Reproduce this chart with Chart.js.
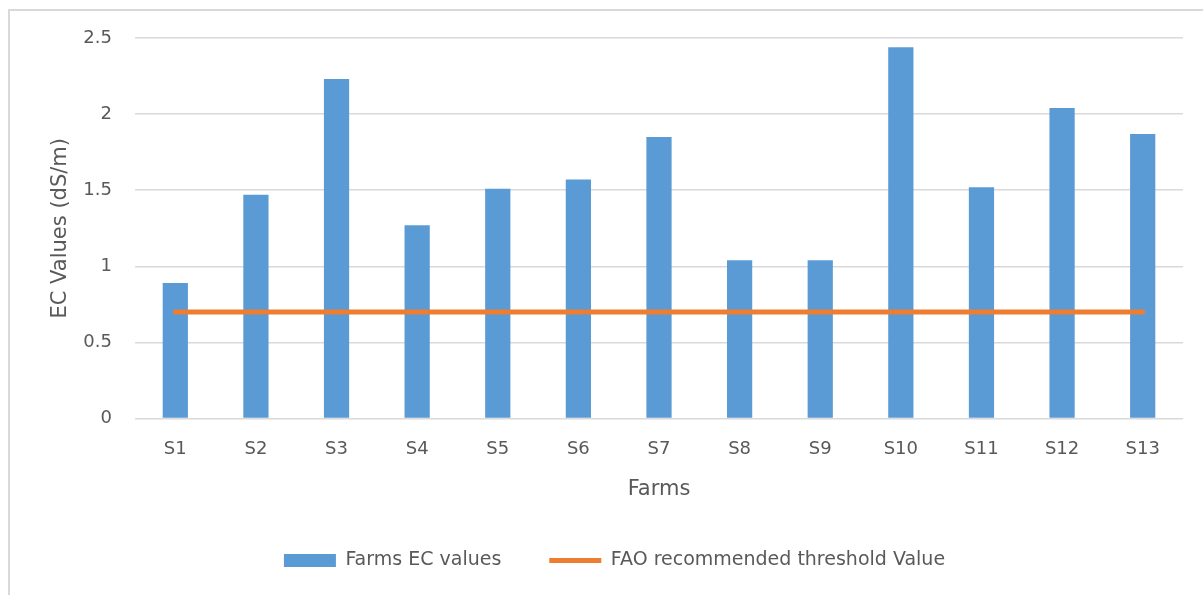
<!DOCTYPE html>
<html>
<head>
<meta charset="utf-8">
<script src="https://cdn.jsdelivr.net/npm/chart.js@4/dist/chart.umd.min.js"></script>
<style>
  html, body { margin: 0; padding: 0; background: #ffffff; overflow: hidden; }
  #frame {
    position: absolute; left: 8px; top: 9px;
    width: 1400px; height: 800px;
    border: 2px solid #d9d9d9; box-sizing: border-box;
  }
  #chart { position: absolute; left: 0; top: 0; }
</style>
</head>
<body>
<div id="frame"></div>
<canvas id="chart" width="1203" height="595"></canvas>
<script>
// Sampled farms
const farms = ['S1', 'S2', 'S3', 'S4', 'S5', 'S6', 'S7', 'S8', 'S9', 'S10', 'S11', 'S12', 'S13'];
// Measured electrical conductivity, dS/m
const ecValues = [0.89, 1.47, 2.23, 1.27, 1.51, 1.57, 1.85, 1.04, 1.04, 2.44, 1.52, 2.04, 1.87];
// FAO recommended threshold, dS/m
const faoThreshold = [0.7, 0.7, 0.7, 0.7, 0.7, 0.7, 0.7, 0.7, 0.7, 0.7, 0.7, 0.7, 0.7];
// Value axis ticks
const yTicks = [0, 0.5, 1, 1.5, 2, 2.5];

const TEXT = '#595959';
const FONT = 'DejaVu Sans';

new Chart(document.getElementById('chart'), {
  data: {
    labels: farms,
    datasets: [
      {
        type: 'bar',
        label: 'Farms EC values',
        data: ecValues,
        backgroundColor: '#5B9BD5',
        borderWidth: 0,
        pointStyle: 'rect',
        barPercentage: 1,
        categoryPercentage: 0.313,
        order: 2
      },
      {
        type: 'line',
        label: 'FAO recommended threshold Value',
        data: faoThreshold,
        borderColor: '#ED7D31',
        backgroundColor: '#ED7D31',
        borderWidth: 5,
        borderCapStyle: 'round',
        pointRadius: 0,
        pointHoverRadius: 0,
        pointStyle: 'line',
        fill: false,
        order: 1
      }
    ]
  },
  options: {
    responsive: false,
    animation: false,
    devicePixelRatio: 1,
    layout: { padding: { left: 46, right: 20, top: 38, bottom: 15 } },
    plugins: {
      tooltip: { enabled: false },
      legend: {
        position: 'bottom',
        labels: {
          usePointStyle: true,
          pointStyleWidth: 52,
          boxHeight: 13,
          padding: 48,
          color: TEXT,
          font: { family: FONT, size: 19 },
          sort: (a, b) => a.datasetIndex - b.datasetIndex
        }
      }
    },
    scales: {
      x: {
        offset: true,
        grid: { display: false, drawTicks: false },
        border: { display: false },
        ticks: { color: TEXT, font: { family: FONT, size: 18 }, padding: 20, maxRotation: 0 },
        title: {
          display: true, text: 'Farms', color: TEXT,
          font: { family: FONT, size: 21 },
          padding: { top: 0, bottom: 1 }
        },
        afterFit: (scale) => { scale.height = 84.5; }
      },
      y: {
        min: 0,
        max: 2.5,
        afterBuildTicks: (scale) => { scale.ticks = yTicks.map(v => ({ value: v })); },
        grid: { color: '#d9d9d9', lineWidth: 1.5, drawTicks: false },
        border: { display: false },
        ticks: {
          color: TEXT, font: { family: FONT, size: 18 }, padding: 23,
          callback: (v) => String(v)
        },
        title: {
          display: true, text: 'EC Values (dS/m)', color: TEXT,
          font: { family: FONT, size: 21 },
          padding: { top: 2, bottom: 0 }
        },
        afterFit: (scale) => { scale.width = 89; }
      }
    }
  }
});
</script>
</body>
</html>
